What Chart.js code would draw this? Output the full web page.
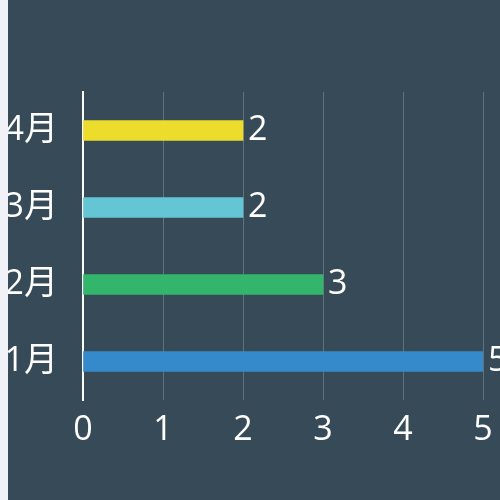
<!DOCTYPE html>
<html lang="zh">
<head>
    <meta charset="UTF-8">
    <title>月度柱状图</title>
    <script src="https://cdn.jsdelivr.net/npm/chart.js"></script>
    <style>
        html, body {
            margin: 0;
            padding: 0;
            background: #f0f2f7;
            overflow: hidden;
        }
        .chart-box {
            position: absolute;
            left: 8px;
            top: 0;
            width: 492px;
            height: 500px;
            background: #364b57;
        }
    </style>
</head>
<body>
    <div class="chart-box">
        <canvas id="monthChart"></canvas>
    </div>

    <script>
        // Data
        const months = ['1月', '2月', '3月', '4月'];
        const counts = [5, 3, 2, 2];
        const barColors = ['#348aca', '#33b56b', '#64c6d4', '#ecdc2c'];
        const xTicks = [0, 1, 2, 3, 4, 5];

        const fontFamily = '"Open Sans", "Noto Sans CJK SC", sans-serif';

        // value labels at the end of each bar
        const valueLabels = {
            id: 'valueLabels',
            afterDatasetsDraw(chart) {
                const ctx = chart.ctx;
                const meta = chart.getDatasetMeta(0);
                ctx.save();
                ctx.fillStyle = '#ffffff';
                ctx.font = '34px ' + fontFamily;
                ctx.textAlign = 'left';
                ctx.textBaseline = 'middle';
                meta.data.forEach((bar, i) => {
                    ctx.fillText(String(counts[i]), bar.x + 5, bar.y);
                });
                ctx.restore();
            }
        };

        const config = {
            type: 'bar',
            data: {
                labels: months,
                datasets: [{
                    data: counts,
                    backgroundColor: barColors,
                    borderWidth: 0,
                    barThickness: 20
                }]
            },
            options: {
                indexAxis: 'y',
                responsive: true,
                maintainAspectRatio: false,
                animation: false,
                layout: {
                    padding: { top: 92, right: 17, bottom: 0, left: 0 }
                },
                plugins: {
                    legend: { display: false },
                    tooltip: { enabled: false }
                },
                scales: {
                    x: {
                        min: 0,
                        max: 5,
                        afterBuildTicks: (scale) => {
                            scale.ticks = xTicks.map(v => ({ value: v }));
                        },
                        afterFit: (scale) => {
                            scale.height = 100;
                            scale.paddingLeft = 0;
                            scale.paddingRight = 0;
                        },
                        grid: {
                            color: 'rgba(255,255,255,0.22)',
                            lineWidth: 1,
                            drawTicks: false
                        },
                        border: { display: false },
                        ticks: {
                            color: '#ffffff',
                            padding: 10,
                            font: { size: 34, family: fontFamily }
                        }
                    },
                    y: {
                        reverse: true,
                        afterFit: (scale) => { scale.width = 75; },
                        grid: { display: false, drawTicks: false },
                        border: { display: true, color: '#ffffff', width: 2 },
                        ticks: {
                            color: '#ffffff',
                            padding: 25,
                            font: { size: 34, family: fontFamily }
                        }
                    }
                }
            },
            plugins: [valueLabels]
        };

        const monthChart = new Chart(document.getElementById('monthChart'), config);
    </script>
</body>
</html>
